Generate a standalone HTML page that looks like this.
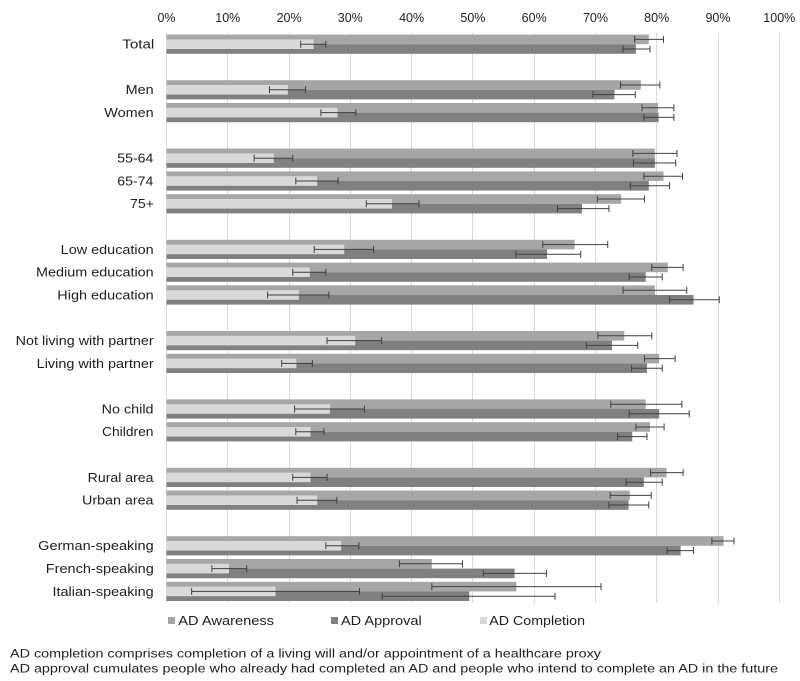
<!DOCTYPE html>
<html>
<head>
<meta charset="utf-8">
<style>
html,body{margin:0;padding:0;background:#fff;}
svg{display:block;}
text{font-family:"Liberation Sans",Arial,sans-serif;fill:#1e1e1e;}
.a{fill:#a6a6a6;}
.p{fill:#808080;}
.c{fill:#d9d9d9;}
.e{stroke:#404040;stroke-width:1;fill:none;}
</style>
</head>
<body>
<svg width="800" height="681" viewBox="0 0 800 681" xmlns="http://www.w3.org/2000/svg">
<rect width="800" height="681" fill="#fff"/>
<!-- gridlines -->
<g stroke="#d9d9d9" stroke-width="1">
<line x1="166.5" y1="33" x2="166.5" y2="603"/>
<line x1="227.5" y1="33" x2="227.5" y2="603"/>
<line x1="289.5" y1="33" x2="289.5" y2="603"/>
<line x1="350.5" y1="33" x2="350.5" y2="603"/>
<line x1="411.5" y1="33" x2="411.5" y2="603"/>
<line x1="472.5" y1="33" x2="472.5" y2="603"/>
<line x1="534.5" y1="33" x2="534.5" y2="603"/>
<line x1="595.5" y1="33" x2="595.5" y2="603"/>
<line x1="656.5" y1="33" x2="656.5" y2="603"/>
<line x1="718.5" y1="33" x2="718.5" y2="603"/>
<line x1="779.5" y1="33" x2="779.5" y2="603"/>
</g>
<!-- tick labels -->
<g font-size="12.5" text-anchor="middle">
<text x="166.5" y="22">0%</text>
<text x="227.8" y="22">10%</text>
<text x="289.1" y="22">20%</text>
<text x="350.3" y="22">30%</text>
<text x="411.6" y="22">40%</text>
<text x="472.9" y="22">50%</text>
<text x="534.2" y="22">60%</text>
<text x="595.5" y="22">70%</text>
<text x="656.7" y="22">80%</text>
<text x="718" y="22">90%</text>
<text x="779.3" y="22">100%</text>
</g>
<!-- bars -->
<g transform="translate(166.5,0) scale(6.128,1)">
<rect class="a" y="34.6" width="78.7" height="9.6"/><rect class="p" y="44.2" width="76.6" height="9.6"/><rect class="c" y="39.4" width="24.0" height="9.6"/>
<rect class="a" y="80.2" width="77.4" height="9.6"/><rect class="p" y="89.8" width="73.1" height="9.6"/><rect class="c" y="85.0" width="19.8" height="9.6"/>
<rect class="a" y="103.0" width="80.2" height="9.6"/><rect class="p" y="112.6" width="80.3" height="9.6"/><rect class="c" y="107.8" width="27.9" height="9.6"/>
<rect class="a" y="148.6" width="79.7" height="9.6"/><rect class="p" y="158.2" width="79.7" height="9.6"/><rect class="c" y="153.4" width="17.5" height="9.6"/>
<rect class="a" y="171.4" width="81.1" height="9.6"/><rect class="p" y="181.0" width="78.7" height="9.6"/><rect class="c" y="176.2" width="24.6" height="9.6"/>
<rect class="a" y="194.2" width="74.2" height="9.6"/><rect class="p" y="203.8" width="67.8" height="9.6"/><rect class="c" y="199.0" width="36.8" height="9.6"/>
<rect class="a" y="239.8" width="66.6" height="9.6"/><rect class="p" y="249.4" width="62.1" height="9.6"/><rect class="c" y="244.6" width="29.0" height="9.6"/>
<rect class="a" y="262.6" width="81.8" height="9.6"/><rect class="p" y="272.2" width="78.2" height="9.6"/><rect class="c" y="267.4" width="23.4" height="9.6"/>
<rect class="a" y="285.4" width="79.7" height="9.6"/><rect class="p" y="295.0" width="86.0" height="9.6"/><rect class="c" y="290.2" width="21.6" height="9.6"/>
<rect class="a" y="331.0" width="74.7" height="9.6"/><rect class="p" y="340.6" width="72.7" height="9.6"/><rect class="c" y="335.8" width="30.8" height="9.6"/>
<rect class="a" y="353.8" width="80.4" height="9.6"/><rect class="p" y="363.4" width="78.4" height="9.6"/><rect class="c" y="358.6" width="21.2" height="9.6"/>
<rect class="a" y="399.4" width="78.2" height="9.6"/><rect class="p" y="409.0" width="80.4" height="9.6"/><rect class="c" y="404.2" width="26.7" height="9.6"/>
<rect class="a" y="422.2" width="78.9" height="9.6"/><rect class="p" y="431.8" width="76.0" height="9.6"/><rect class="c" y="427.0" width="23.5" height="9.6"/>
<rect class="a" y="467.8" width="81.6" height="9.6"/><rect class="p" y="477.4" width="77.9" height="9.6"/><rect class="c" y="472.6" width="23.5" height="9.6"/>
<rect class="a" y="490.6" width="75.6" height="9.6"/><rect class="p" y="500.2" width="75.4" height="9.6"/><rect class="c" y="495.4" width="24.6" height="9.6"/>
<rect class="a" y="536.2" width="90.9" height="9.6"/><rect class="p" y="545.8" width="83.9" height="9.6"/><rect class="c" y="541.0" width="28.5" height="9.6"/>
<rect class="a" y="559.0" width="43.3" height="9.6"/><rect class="p" y="568.6" width="56.8" height="9.6"/><rect class="c" y="563.8" width="10.2" height="9.6"/>
<rect class="a" y="581.8" width="57.1" height="9.6"/><rect class="p" y="591.4" width="49.4" height="9.6"/><rect class="c" y="586.6" width="17.8" height="9.6"/>
<!-- error bars -->
<path class="e" vector-effect="non-scaling-stroke" d="
M76.4 39.4H81.1M76.4 35.9V42.9M81.1 35.9V42.9
M74.5 49H78.9M74.5 45.5V52.5M78.9 45.5V52.5
M21.9 44.2H26M21.9 40.7V47.7M26 40.7V47.7
M74.1 85H80.5M74.1 81.5V88.5M80.5 81.5V88.5
M69.6 94.6H76.5M69.6 91.1V98.1M76.5 91.1V98.1
M16.8 89.8H22.7M16.8 86.3V93.3M22.7 86.3V93.3
M77.6 107.8H82.8M77.6 104.3V111.3M82.8 104.3V111.3
M77.9 117.4H82.8M77.9 113.9V120.9M82.8 113.9V120.9
M25.2 112.6H30.9M25.2 109.1V116.1M30.9 109.1V116.1
M76.1 153.4H83.3M76.1 149.9V156.9M83.3 149.9V156.9
M76.2 163H83.1M76.2 159.5V166.5M83.1 159.5V166.5
M14.3 158.2H20.6M14.3 154.7V161.7M20.6 154.7V161.7
M77.9 176.2H84.2M77.9 172.7V179.7M84.2 172.7V179.7
M75.7 185.8H82.1M75.7 182.3V189.3M82.1 182.3V189.3
M21.1 181H28M21.1 177.5V184.5M28 177.5V184.5
M70.3 199H78M70.3 195.5V202.5M78 195.5V202.5
M63.8 208.6H72.2M63.8 205.1V212.1M72.2 205.1V212.1
M32.6 203.8H41.2M32.6 200.3V207.3M41.2 200.3V207.3
M61.4 244.6H72M61.4 241.1V248.1M72 241.1V248.1
M57 254.2H67.6M57 250.7V257.7M67.6 250.7V257.7
M24.1 249.4H33.8M24.1 245.9V252.9M33.8 245.9V252.9
M79.2 267.4H84.3M79.2 263.9V270.9M84.3 263.9V270.9
M75.5 277H80.9M75.5 273.5V280.5M80.9 273.5V280.5
M20.6 272.2H26M20.6 268.7V275.7M26 268.7V275.7
M74.5 290.2H84.9M74.5 286.7V293.7M84.9 286.7V293.7
M82.1 299.8H90.2M82.1 296.3V303.3M90.2 296.3V303.3
M16.5 295H26.5M16.5 291.5V298.5M26.5 291.5V298.5
M70.4 335.8H79.2M70.4 332.3V339.3M79.2 332.3V339.3
M68.5 345.4H76.9M68.5 341.9V348.9M76.9 341.9V348.9
M26.2 340.6H35.1M26.2 337.1V344.1M35.1 337.1V344.1
M78 358.6H83M78 355.1V362.1M83 355.1V362.1
M75.9 368.2H80.9M75.9 364.7V371.7M80.9 364.7V371.7
M18.8 363.4H23.8M18.8 359.9V366.9M23.8 359.9V366.9
M72.5 404.2H84.1M72.5 400.7V407.7M84.1 400.7V407.7
M75.5 413.8H85.3M75.5 410.3V417.3M85.3 410.3V417.3
M20.9 409H32.3M20.9 405.5V412.5M32.3 405.5V412.5
M76.6 427H81.2M76.6 423.5V430.5M81.2 423.5V430.5
M73.6 436.6H78.4M73.6 433.1V440.1M78.4 433.1V440.1
M21.1 431.8H25.7M21.1 428.3V435.3M25.7 428.3V435.3
M79 472.6H84.3M79 469.1V476.1M84.3 469.1V476.1
M75 482.2H80.9M75 478.7V485.7M80.9 478.7V485.7
M20.6 477.4H26.2M20.6 473.9V480.9M26.2 473.9V480.9
M72.4 495.4H79.1M72.4 491.9V498.9M79.1 491.9V498.9
M72.2 505H78.7M72.2 501.5V508.5M78.7 501.5V508.5
M21.3 500.2H27.8M21.3 496.7V503.7M27.8 496.7V503.7
M89 541H92.6M89 537.5V544.5M92.6 537.5V544.5
M81.7 550.6H86M81.7 547.1V554.1M86 547.1V554.1
M26 545.8H31.4M26 542.3V549.3M31.4 542.3V549.3
M38 563.8H48.3M38 560.3V567.3M48.3 560.3V567.3
M51.7 573.4H62M51.7 569.9V576.9M62 569.9V576.9
M7.4 568.6H13.1M7.4 565.1V572.1M13.1 565.1V572.1
M43.3 586.6H70.9M43.3 583.1V590.1M70.9 583.1V590.1
M35.2 596.2H63.4M35.2 592.7V599.7M63.4 592.7V599.7
M4.1 591.4H31.5M4.1 587.9V594.9M31.5 587.9V594.9
"/>
</g>
<!-- category labels -->
<g font-size="12.5" lengthAdjust="spacingAndGlyphs">
<text x="122.3" y="48.6" textLength="32" lengthAdjust="spacingAndGlyphs">Total</text>
<text x="125.7" y="94.2" textLength="28" lengthAdjust="spacingAndGlyphs">Men</text>
<text x="104.3" y="117" textLength="49.4" lengthAdjust="spacingAndGlyphs">Women</text>
<text x="117.3" y="162.6" textLength="36" lengthAdjust="spacingAndGlyphs">55-64</text>
<text x="117.3" y="185.4" textLength="36" lengthAdjust="spacingAndGlyphs">65-74</text>
<text x="130" y="208.2" textLength="24" lengthAdjust="spacingAndGlyphs">75+</text>
<text x="60.7" y="253.8" textLength="93" lengthAdjust="spacingAndGlyphs">Low education</text>
<text x="36" y="276.6" textLength="117.7" lengthAdjust="spacingAndGlyphs">Medium education</text>
<text x="57.3" y="299.4" textLength="96.4" lengthAdjust="spacingAndGlyphs">High education</text>
<text x="15.7" y="345" textLength="138" lengthAdjust="spacingAndGlyphs">Not living with partner</text>
<text x="36.7" y="367.8" textLength="117" lengthAdjust="spacingAndGlyphs">Living with partner</text>
<text x="101.7" y="413.4" textLength="51.8" lengthAdjust="spacingAndGlyphs">No child</text>
<text x="102" y="436.2" textLength="51.5" lengthAdjust="spacingAndGlyphs">Children</text>
<text x="87.7" y="481.8" textLength="65.8" lengthAdjust="spacingAndGlyphs">Rural area</text>
<text x="82" y="504.6" textLength="71.5" lengthAdjust="spacingAndGlyphs">Urban area</text>
<text x="38.2" y="550.2" textLength="115.5" lengthAdjust="spacingAndGlyphs">German-speaking</text>
<text x="45.8" y="573" textLength="108" lengthAdjust="spacingAndGlyphs">French-speaking</text>
<text x="52.5" y="595.8" textLength="101.2" lengthAdjust="spacingAndGlyphs">Italian-speaking</text>
</g>
<!-- legend -->
<rect x="168" y="617" width="7" height="7" fill="#a6a6a6"/>
<text x="178.3" y="625" font-size="12.8" textLength="95.7" lengthAdjust="spacingAndGlyphs">AD Awareness</text>
<rect x="331" y="617" width="7" height="7" fill="#808080"/>
<text x="341" y="625" font-size="12.8" textLength="80.7" lengthAdjust="spacingAndGlyphs">AD Approval</text>
<rect x="480" y="617" width="7" height="7" fill="#d9d9d9"/>
<text x="489.3" y="625" font-size="12.8" textLength="95.7" lengthAdjust="spacingAndGlyphs">AD Completion</text>
<!-- footnotes -->
<text x="10" y="657.5" font-size="12.3" textLength="591" lengthAdjust="spacingAndGlyphs">AD completion comprises completion of a living will and/or appointment of a healthcare proxy</text>
<text x="10" y="672.5" font-size="12.3" textLength="768" lengthAdjust="spacingAndGlyphs">AD approval  cumulates people who already had completed an AD and people who intend to complete an AD in the future</text>
</svg>
</body>
</html>
